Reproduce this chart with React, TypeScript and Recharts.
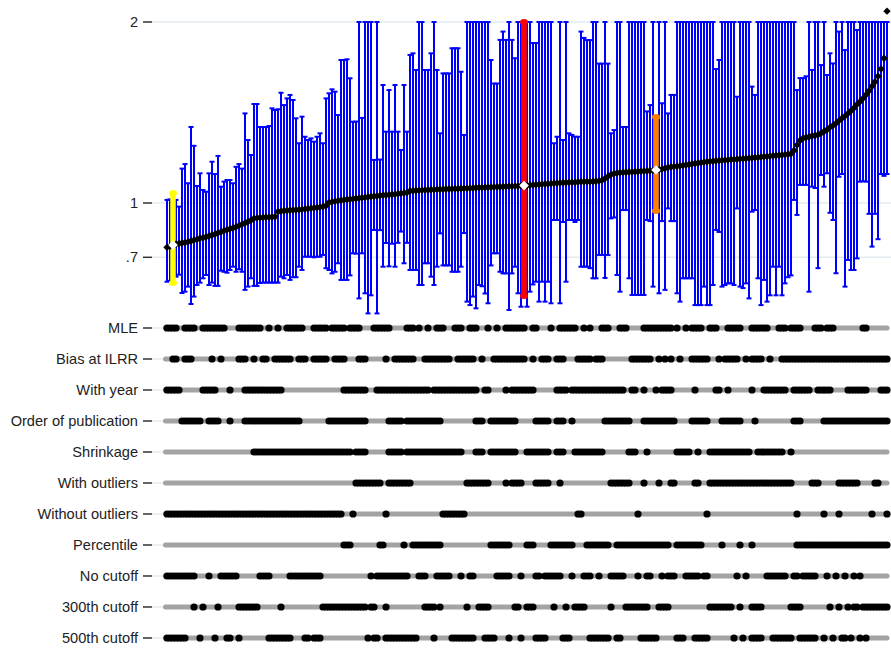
import { ComposedChart, Scatter, ErrorBar, Line, XAxis, YAxis, CartesianGrid } from 'recharts';

// specifications sorted by estimate (0 .. 240)
const est = [
  0.755, 0.762, 0.768, 0.772, 0.776, 0.779, 0.782, 0.785, 0.79, 0.795,
  0.799, 0.805, 0.808, 0.812, 0.818, 0.823, 0.828, 0.835, 0.84, 0.846,
  0.852, 0.857, 0.862, 0.868, 0.875, 0.882, 0.889, 0.897, 0.905, 0.915,
  0.918, 0.919, 0.92, 0.921, 0.922, 0.923, 0.924, 0.952, 0.955, 0.957,
  0.958, 0.96, 0.961, 0.962, 0.963, 0.965, 0.967, 0.969, 0.971, 0.973,
  0.975, 0.977, 0.98, 0.985, 1.003, 1.006, 1.009, 1.012, 1.015, 1.017,
  1.019, 1.021, 1.023, 1.025, 1.027, 1.029, 1.031, 1.033, 1.035, 1.037,
  1.039, 1.041, 1.043, 1.044, 1.045, 1.047, 1.049, 1.051, 1.053, 1.055,
  1.058, 1.066, 1.068, 1.069, 1.07, 1.071, 1.072, 1.072, 1.073, 1.074,
  1.075, 1.076, 1.076, 1.077, 1.077, 1.078, 1.079, 1.079, 1.08, 1.081,
  1.081, 1.082, 1.083, 1.084, 1.085, 1.085, 1.086, 1.087, 1.087, 1.088,
  1.089, 1.09, 1.09, 1.091, 1.092, 1.093, 1.093, 1.094, 1.095, 1.096,
  1.097, 1.098, 1.1, 1.101, 1.102, 1.104, 1.105, 1.106, 1.107, 1.109,
  1.11, 1.111, 1.112, 1.113, 1.114, 1.115, 1.115, 1.116, 1.117, 1.117,
  1.118, 1.118, 1.119, 1.12, 1.122, 1.126, 1.135, 1.147, 1.157, 1.162,
  1.166, 1.168, 1.169, 1.17, 1.171, 1.172, 1.173, 1.174, 1.175, 1.176,
  1.177, 1.178, 1.18, 1.182, 1.184, 1.187, 1.192, 1.196, 1.199, 1.201,
  1.203, 1.205, 1.208, 1.21, 1.213, 1.216, 1.218, 1.221, 1.223, 1.226,
  1.228, 1.23, 1.231, 1.233, 1.234, 1.236, 1.237, 1.238, 1.24, 1.241,
  1.242, 1.244, 1.245, 1.246, 1.248, 1.249, 1.251, 1.252, 1.254, 1.256,
  1.257, 1.259, 1.261, 1.262, 1.264, 1.265, 1.267, 1.269, 1.272, 1.29,
  1.32, 1.345, 1.358, 1.362, 1.366, 1.37, 1.373, 1.377, 1.385, 1.395,
  1.405, 1.418, 1.428, 1.44, 1.455, 1.468, 1.48, 1.495, 1.51, 1.525,
  1.545, 1.56, 1.578, 1.598, 1.62, 1.645, 1.67, 1.7, 1.74, 1.8,
  2.06,
];

const hi = [
  1.017, 1.02, 1.055, 1.017, 0.98, 1.19, 1.215, 1.109, 1.42, 1.316,
  1.094, 1.164, 1.072, 1.062, 1.164, 1.228, 1.16, 1.26, 1.09, 1.118,
  1.127, 1.127, 1.109, 1.2, 1.215, 1.19, 1.495, 1.348, 1.265, 1.547,
  1.547, 1.42, 1.42, 1.42, 1.425, 1.523, 1.514, 1.518, 1.609, 1.541,
  1.578, 1.597, 1.569, 1.468, 1.33, 1.477, 1.366, 1.348, 1.357, 1.339,
  1.366, 1.385, 1.33, 1.578, 1.606, 1.628, 1.615, 1.486, 1.79, 1.79,
  1.794, 1.689, 1.449, 1.45, 2.3, 1.47, 2.3, 2.3, 2.3, 1.238,
  2.3, 1.24, 1.652, 1.394, 1.624, 1.394, 1.652, 1.394, 1.293, 1.652,
  1.394, 1.818, 1.827, 1.735, 2.3, 2.3, 1.735, 1.735, 1.827, 2.3,
  1.735, 1.385, 1.716, 1.716, 1.716, 1.855, 1.855, 1.855, 1.725, 1.376,
  2.3, 2.3, 2.3, 2.3, 2.3, 2.3, 2.3, 2.3, 1.79, 1.66,
  1.66, 1.901, 1.947, 1.901, 2.3, 1.901, 1.8, 2.3, 2.3, 2.3,
  2.3, 2.3, 1.884, 1.884, 2.3, 2.3, 2.3, 2.3, 2.3, 1.33,
  1.366, 2.3, 1.348, 2.3, 1.385, 1.376, 1.366, 1.366, 1.947, 1.912,
  1.9, 1.9, 2.3, 2.3, 1.77, 1.77, 2.3, 1.77, 1.385, 1.403,
  2.3, 2.3, 1.42, 1.42, 2.3, 2.3, 2.3, 2.3, 2.3, 2.3,
  1.506, 1.541, 2.3, 1.475, 2.3, 1.551, 2.3, 1.495, 1.597, 1.597,
  2.3, 2.3, 2.3, 2.3, 2.3, 2.3, 2.3, 2.3, 2.3, 2.3,
  2.3, 2.3, 2.3, 1.74, 1.79, 2.3, 2.3, 2.3, 2.3, 2.3,
  1.587, 2.3, 2.3, 2.3, 2.3, 1.643, 1.597, 2.3, 2.3, 2.3,
  2.3, 2.3, 2.3, 2.3, 2.3, 2.3, 2.3, 2.3, 2.3, 2.3,
  1.624, 1.69, 1.69, 1.7, 2.3, 1.735, 2.3, 2.3, 1.762, 2.3,
  1.707, 1.827, 1.771, 2.3, 1.947, 2.3, 1.845, 2.3, 2.3, 2.3,
  1.956, 2.3, 2.3, 2.3, 2.3, 2.3, 2.3, 2.3, 2.3, 2.3,
  2.3,
];

const lo = [
  0.565, 0.57, 0.558, 0.593, 0.604, 0.503, 0.51, 0.538, 0.442, 0.483,
  0.547, 0.56, 0.584, 0.602, 0.547, 0.56, 0.542, 0.542, 0.626, 0.62,
  0.615, 0.63, 0.648, 0.62, 0.634, 0.62, 0.52, 0.538, 0.584, 0.542,
  0.542, 0.558, 0.56, 0.56, 0.56, 0.56, 0.56, 0.56, 0.593, 0.584,
  0.602, 0.575, 0.59, 0.59, 0.648, 0.63, 0.703, 0.703, 0.703, 0.7,
  0.703, 0.703, 0.713, 0.64, 0.63, 0.611, 0.62, 0.667, 0.575, 0.575,
  0.575, 0.6, 0.722, 0.72, 0.473, 0.722, 0.501, 0.39, 0.49, 0.851,
  0.39, 0.85, 0.648, 0.779, 0.65, 0.775, 0.648, 0.78, 0.842, 0.667,
  0.78, 0.63, 0.63, 0.63, 0.547, 0.547, 0.667, 0.667, 0.593, 0.547,
  0.648, 0.832, 0.655, 0.655, 0.655, 0.62, 0.62, 0.62, 0.648, 0.834,
  0.455, 0.436, 0.483, 0.418, 0.547, 0.54, 0.5, 0.446, 0.655, 0.722,
  0.722, 0.62, 0.611, 0.611, 0.409, 0.611, 0.648, 0.501, 0.427, 0.486,
  0.427, 0.51, 0.55, 0.565, 0.455, 0.565, 0.455, 0.565, 0.446, 0.906,
  0.906, 0.446, 0.895, 0.565, 0.906, 0.906, 0.895, 0.906, 0.648, 0.648,
  0.648, 0.64, 0.584, 0.584, 0.713, 0.713, 0.586, 0.713, 0.915, 0.92,
  0.602, 0.51, 0.961, 0.961, 0.584, 0.492, 0.492, 0.492, 0.492, 0.492,
  0.906, 0.9, 0.538, 0.956, 0.501, 0.9, 0.52, 0.97, 0.9, 0.9,
  0.501, 0.455, 0.584, 0.584, 0.584, 0.584, 0.436, 0.436, 0.436, 0.538,
  0.436, 0.436, 0.547, 0.851, 0.84, 0.538, 0.547, 0.556, 0.556, 0.547,
  0.97, 0.538, 0.53, 0.556, 0.473, 0.952, 0.961, 0.584, 0.436, 0.575,
  0.455, 0.49, 0.648, 0.49, 0.648, 0.49, 0.556, 0.59, 0.6, 1.017,
  0.934, 1.1, 1.1, 1.1, 0.51, 1.09, 1.083, 0.64, 1.155, 1.09,
  1.164, 0.946, 0.906, 0.612, 1.145, 1.16, 0.538, 0.685, 0.63, 0.63,
  0.694, 1.118, 1.12, 1.118, 0.94, 0.759, 0.94, 0.8, 1.16, 1.15,
  1.16,
];

// highlighted specifications
const highlightIdx = [2, 119, 163];
const highlightColors = ['#ffff00', '#ff0000', '#ff7f00'];

const yTicks = [0.7, 1, 2];

const rowLabels = [
  'MLE',
  'Bias at ILRR',
  'With year',
  'Order of publication',
  'Shrinkage',
  'With outliers',
  'Without outliers',
  'Percentile',
  'No cutoff',
  '300th cutoff',
  '500th cutoff',
];

// runs of specification indices [from, to] that use each choice
const mleRuns = [[0, 3], [6, 9], [12, 19], [24, 31], [34, 34], [37, 37], [40, 45], [49, 53], [55, 59], [61, 64], [69, 74], [80, 82], [84, 84], [87, 87], [90, 92], [96, 98], [101, 103], [107, 107], [110, 110], [113, 119], [122, 123], [128, 128], [131, 136], [139, 139], [141, 141], [145, 147], [151, 153], [159, 168], [170, 170], [173, 173], [175, 178], [181, 183], [187, 191], [195, 200], [204, 206], [208, 211], [216, 218], [220, 222], [232, 233]];
const biasRuns = [[2, 3], [6, 8], [15, 15], [18, 18], [24, 26], [29, 29], [32, 33], [36, 41], [44, 46], [49, 53], [56, 59], [64, 66], [73, 73], [76, 82], [86, 94], [97, 102], [105, 105], [109, 119], [122, 122], [125, 127], [130, 132], [137, 141], [143, 145], [155, 161], [164, 164], [166, 166], [168, 168], [171, 171], [175, 180], [184, 184], [186, 190], [193, 193], [195, 198], [201, 201], [205, 240]];
const yearRuns = [[0, 4], [12, 16], [21, 21], [26, 38], [59, 66], [70, 87], [89, 103], [106, 107], [113, 113], [115, 122], [130, 133], [135, 152], [155, 156], [159, 159], [163, 163], [165, 168], [176, 176], [183, 184], [187, 187], [195, 195], [199, 206], [209, 214], [217, 221], [227, 233], [238, 240]];
const orderRuns = [[5, 11], [14, 17], [21, 21], [26, 44], [54, 66], [74, 78], [80, 91], [103, 105], [108, 116], [123, 127], [130, 132], [135, 135], [146, 154], [159, 169], [175, 180], [185, 191], [196, 196], [209, 211], [219, 240]];
const shrinkRuns = [[29, 61], [63, 66], [74, 78], [80, 98], [103, 105], [108, 116], [120, 127], [130, 132], [136, 145], [154, 156], [160, 160], [170, 174], [177, 177], [181, 194], [197, 205], [208, 208]];
const withOutliersRuns = [[63, 71], [74, 81], [100, 107], [113, 113], [115, 118], [123, 127], [131, 131], [148, 154], [159, 159], [164, 164], [168, 169], [176, 177], [181, 208], [215, 217], [224, 230], [236, 237]];
const withoutOutliersRuns = [[0, 58], [62, 62], [73, 73], [92, 99], [137, 138], [157, 157], [180, 180], [210, 210], [219, 219], [224, 224], [235, 235], [240, 240]];
const percentileRuns = [[59, 61], [71, 72], [79, 79], [82, 91], [108, 114], [120, 122], [128, 135], [140, 147], [150, 167], [170, 178], [185, 185], [191, 191], [195, 195], [210, 240]];
const noCutoffRuns = [[0, 9], [14, 14], [18, 23], [31, 34], [41, 51], [68, 68], [70, 80], [84, 86], [90, 94], [98, 98], [101, 102], [110, 114], [118, 118], [123, 124], [126, 131], [135, 135], [139, 141], [144, 144], [148, 152], [157, 157], [160, 161], [165, 165], [167, 169], [173, 177], [179, 180], [190, 190], [193, 193], [200, 206], [209, 210], [212, 216], [220, 220], [223, 223], [226, 226], [229, 229], [231, 231]];
const cut300Runs = [[9, 9], [12, 12], [17, 17], [24, 30], [38, 38], [52, 66], [68, 69], [73, 73], [86, 89], [91, 91], [100, 100], [104, 107], [116, 117], [120, 122], [129, 129], [133, 133], [136, 139], [148, 148], [153, 160], [164, 167], [181, 188], [191, 191], [195, 198], [208, 211], [221, 221], [224, 224], [227, 227], [229, 230], [232, 240]];
const cut500Runs = [[0, 6], [11, 11], [16, 16], [20, 21], [24, 24], [34, 41], [46, 47], [49, 51], [67, 67], [69, 70], [73, 83], [89, 89], [95, 102], [106, 109], [114, 114], [118, 118], [123, 126], [132, 134], [141, 147], [150, 151], [158, 163], [170, 172], [176, 180], [189, 189], [192, 192], [195, 198], [202, 208], [211, 216], [219, 219], [222, 222], [225, 226], [228, 228], [231, 231], [233, 233]];

const rowRuns = [mleRuns, biasRuns, yearRuns, orderRuns, shrinkRuns, withOutliersRuns, withoutOutliersRuns, percentileRuns, noCutoffRuns, cut300Runs, cut500Runs];

const CLIP = 2; // intervals are cut at the top of the axis
const last = est.length - 1;

const specs = est.map((v, i) => ({ i, est: v, err: [v - lo[i], Math.min(hi[i], CLIP) - v] }));

const dots: { i: number; r: number }[] = [];
rowRuns.forEach((runs, r) => {
  runs.forEach(([a, b]) => {
    for (let i = a; i <= b; i++) dots.push({ i, r });
  });
});

const font = 'Liberation Sans, Arial, sans-serif';
const tickStyle = { fontSize: 14.6, fill: '#222', fontFamily: font };
const xDomain = [-5, 241.33];
const gridColor = '#e3ebef';

const Diamond = (p: any) => {
  const { cx, cy } = p;
  const s = 3.7;
  return <path d={`M${cx},${cy - s}L${cx + s},${cy}L${cx},${cy + s}L${cx - s},${cy}Z`} fill="#000" />;
};

const WhiteDiamond = (p: any) => {
  const { cx, cy } = p;
  const s = 4.8;
  return <path d={`M${cx},${cy - s}L${cx + s},${cy}L${cx},${cy + s}L${cx - s},${cy}Z`} fill="#fff" />;
};

const Dot = (p: any) => <circle cx={p.cx} cy={p.cy} r={3.6} fill="#000" />;

export default function App() {
  return (
    <div style={{ position: 'absolute', left: 0, top: 0, width: 891, height: 648, background: '#fff' }}>
      <div style={{ position: 'absolute', left: 0, top: 0 }}>
        <ComposedChart width={891} height={320} data={specs} margin={{ top: 0, right: 0, bottom: 0, left: 0 }}>
          <CartesianGrid vertical={false} horizontalValues={yTicks} stroke={gridColor} strokeWidth={1.5} />
          <XAxis type="number" dataKey="i" domain={xDomain} hide allowDataOverflow />
          <YAxis
            type="number"
            dataKey="est"
            domain={[0.3536, 2.1215]}
            ticks={yTicks}
            allowDataOverflow
            width={152}
            axisLine={false}
            tickSize={9}
            tickMargin={5}
            tickLine={{ stroke: '#333', strokeWidth: 1.5 }}
            tick={tickStyle}
            tickFormatter={(v: number) => (v < 1 ? String(v).replace(/^0/, '') : String(v))}
          />
          <Scatter data={specs} shape={Diamond} isAnimationActive={false}>
            <ErrorBar dataKey="err" direction="y" width={2.5} stroke="#0000ff" strokeWidth={2} isAnimationActive={false} />
          </Scatter>
          {highlightIdx.map((idx, k) => (
            <Scatter key={idx} data={[specs[idx]]} shape={WhiteDiamond} isAnimationActive={false}>
              <ErrorBar
                dataKey="err"
                direction="y"
                width={1.2}
                stroke={highlightColors[k]}
                strokeWidth={5.5}
                strokeLinecap="round"
                isAnimationActive={false}
              />
            </Scatter>
          ))}
        </ComposedChart>
      </div>
      <div style={{ position: 'absolute', left: 0, top: 312 }}>
        <ComposedChart width={891} height={336} margin={{ top: 0, right: 0, bottom: 0, left: 0 }}>
          <XAxis type="number" dataKey="i" domain={xDomain} hide allowDataOverflow />
          <YAxis
            type="number"
            dataKey="r"
            reversed
            domain={[-0.516, 10.323]}
            ticks={rowLabels.map((_, r) => r)}
            interval={0}
            allowDataOverflow
            width={152}
            axisLine={false}
            tickSize={9}
            tickMargin={5}
            tickLine={{ stroke: '#333', strokeWidth: 1.5 }}
            tick={tickStyle}
            tickFormatter={(r: number) => rowLabels[r] ?? ''}
          />
          {rowLabels.map((_, r) => (
            <Line
              key={`g${r}`}
              data={[{ i: -5, r }, { i: -0.5, r }]}
              dataKey="r"
              stroke={gridColor}
              strokeWidth={1.5}
              dot={false}
              activeDot={false}
              isAnimationActive={false}
            />
          ))}
          {rowLabels.map((_, r) => (
            <Line
              key={r}
              data={[{ i: -0.5, r }, { i: last, r }]}
              dataKey="r"
              stroke="#a3a3a3"
              strokeWidth={5}
              strokeLinecap="round"
              dot={false}
              activeDot={false}
              isAnimationActive={false}
            />
          ))}
          <Scatter data={dots} shape={Dot} isAnimationActive={false} />
        </ComposedChart>
      </div>
    </div>
  );
}
